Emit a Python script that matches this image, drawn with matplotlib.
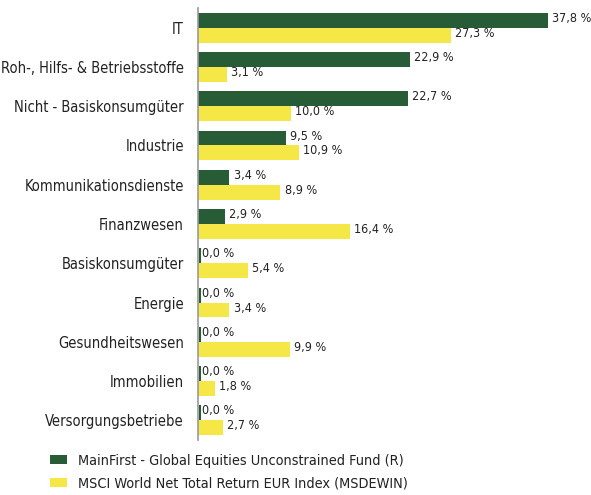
import matplotlib
matplotlib.use("Agg")
import matplotlib.pyplot as plt
import numpy as np

plt.rcParams['font.family'] = ['DejaVu Sans']
plt.rcParams['font.stretch'] = 'condensed'

categories = ["IT", "Roh-, Hilfs- & Betriebsstoffe", "Nicht - Basiskonsumgüter",
              "Industrie", "Kommunikationsdienste", "Finanzwesen",
              "Basiskonsumgüter", "Energie", "Gesundheitswesen",
              "Immobilien", "Versorgungsbetriebe"]
fund = [37.8, 22.9, 22.7, 9.5, 3.4, 2.9, 0.0, 0.0, 0.0, 0.0, 0.0]
index = [27.3, 3.1, 10.0, 10.9, 8.9, 16.4, 5.4, 3.4, 9.9, 1.8, 2.7]
series_names = ["MainFirst - Global Equities Unconstrained Fund (R)",
                "MSCI World Net Total Return EUR Index (MSDEWIN)"]

green = "#275c37"
yellow = "#f5e846"

fig = plt.figure(figsize=(5.91, 4.95), dpi=100)
ax = fig.add_axes([198/591, 1 - 440/495, 379.5/591, 432/495])

y = np.arange(len(categories))
h = 0.38
b1 = ax.barh(y - h/2, fund, height=h, color=green, label=series_names[0])
b2 = ax.barh(y + h/2, index, height=h, color=yellow, label=series_names[1])
# zero values drawn as a thin stub
for yi, v in zip(y, fund):
    if v == 0:
        ax.plot([0.17, 0.17], [yi - h, yi], color=green, lw=1.5, solid_capstyle="butt")

def fmt(v):
    return f"{v:.1f} %".replace(".", ",")

lbl = dict(va="center", ha="left", fontsize=9.0, color="#222222", fontstretch="condensed")
for yi, v in zip(y, fund):
    ax.text(v + 0.45, yi - h/2 - 0.05, fmt(v), **lbl)
for yi, v in zip(y, index):
    ax.text(v + 0.45, yi + h/2 - 0.05, fmt(v), **lbl)

ax.set_xlim(0, 41)
ax.set_ylim(len(categories) - 0.5, -0.5)
ax.set_yticks(y)
ax.set_yticklabels(categories, fontsize=10.5, color="#222222", fontstretch="condensed")
ax.tick_params(axis="y", length=0, pad=10)
ax.set_xticks([])
for s in ["top", "right", "bottom"]:
    ax.spines[s].set_visible(False)
ax.spines["left"].set_color("#999999")
ax.spines["left"].set_linewidth(1.2)

leg = fig.legend(handles=[b1, b2], labels=series_names, loc="upper left",
                 bbox_to_anchor=(44/591, 1 - 448/495), frameon=False,
                 prop=dict(size=10.4, stretch="condensed"),
                 handlelength=1.2, handleheight=0.55,
                 handletextpad=0.75, labelspacing=0.6, borderaxespad=0)
for t in leg.get_texts():
    t.set_color("#222222")

fig.savefig("out.png", dpi=100)
